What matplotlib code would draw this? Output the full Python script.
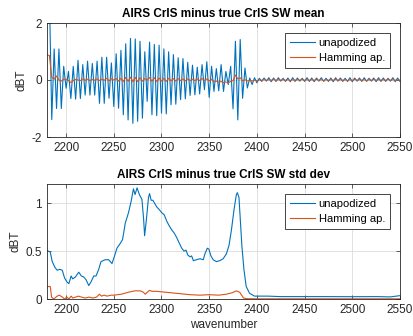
import matplotlib
matplotlib.use("Agg")
import matplotlib.pyplot as plt
import numpy as np

# channel grid for the SW band (2.5 cm-1 spacing)
wn = np.arange(2180, 2550.01, 2.5)

# AIRS CrIS minus true CrIS, mean (dBT)
mean_unapod = [
    2.5, 3.0, -1.39, 1.09, -1.0, 1.09, -1.0, 0.48, -0.29, 0.30,
    -0.65, 0.48, -0.67, 0.69, -0.65, 0.54, -0.53, 0.66, -0.53, 0.58,
    -0.53, 0.66, -0.82, 0.80, -0.82, 0.80, -0.64, 0.60, -0.93, 0.92,
    -0.99, 1.04, -1.22, 1.27, -1.40, 1.46, -1.52, 1.44, -1.45, 1.36,
    -1.34, 0.99, -0.75, 1.33, -1.22, 1.25, -1.25, 1.22, -1.16, 1.09,
    -1.19, 0.99, -0.87, 0.89, -0.85, 0.78, -0.69, 0.75, -0.66, 0.62,
    -0.54, 0.52, -0.52, 0.45, -0.49, 0.54, -0.34, 0.64, -0.61, 0.48,
    -0.40, 0.40, -0.38, 0.54, -0.40, 0.30, -0.16, 0.48, -1.01, 1.36,
    -1.40, 1.42, -0.64, 0.42, -0.28, 0.07, -0.16, 0.08, -0.10, 0.06,
    -0.05, 0.07, -0.04, 0.08, -0.06, 0.07, -0.05, 0.08, -0.04, 0.06,
    -0.05, 0.07, -0.06, 0.08, -0.05, 0.07, -0.04, 0.06, -0.05, 0.08,
    -0.05, 0.07, -0.06, 0.07, -0.04, 0.08, -0.05, 0.06, -0.05, 0.07,
    -0.06, 0.08, -0.04, 0.07, -0.05, 0.06, -0.05, 0.08, -0.06, 0.07,
    -0.04, 0.07, -0.05, 0.08, -0.05, 0.06, -0.04, 0.07, -0.06, 0.08,
    -0.05, 0.07, -0.05, 0.06, -0.04, 0.08, -0.06, 0.07, -0.05,
]
mean_hamm = [
    0.88, 0.86, 0.10, 0.03, 0.14, 0.00, -0.04, 0.03, 0.02, -0.02,
    -0.09, -0.02, 0.02, 0.00, -0.02, 0.04, -0.01, 0.03, -0.02, 0.02,
    -0.01, 0.04, -0.02, 0.03, -0.01, 0.06, -0.03, 0.04, 0.00, 0.05,
    -0.04, 0.06, -0.05, 0.09, -0.05, 0.10, -0.06, 0.09, -0.06, 0.08,
    -0.04, 0.05, 0.00, 0.09, -0.05, 0.08, -0.05, 0.07, -0.04, 0.06,
    -0.05, 0.06, -0.03, 0.05, -0.04, 0.05, -0.02, 0.04, -0.03, 0.04,
    -0.02, 0.03, -0.02, 0.04, -0.02, 0.05, -0.02, 0.04, -0.03, 0.02,
    -0.06, -0.04, -0.08, -0.05, -0.09, -0.07, -0.10, -0.05, -0.02, 0.17,
    0.04, 0.08, -0.03, 0.01, -0.03, -0.02, -0.03, -0.01, -0.02, 0.00,
    -0.01, 0.01, -0.01, 0.01, -0.01, 0.02, -0.01, 0.01, -0.01, 0.01,
    -0.01, 0.01, -0.02, 0.01, -0.01, 0.01, -0.01, 0.02, -0.01, 0.01,
    -0.01, 0.01, -0.01, 0.02, -0.01, 0.01, -0.02, 0.01, -0.01, 0.01,
    -0.01, 0.02, -0.01, 0.01, -0.01, 0.01, -0.02, 0.01, -0.01, 0.02,
    -0.01, 0.01, -0.01, 0.01, -0.02, 0.01, -0.01, 0.02, -0.01, 0.01,
    -0.01, 0.01, -0.01, 0.02, -0.01, 0.01, -0.01, 0.01, -0.01,
]

# AIRS CrIS minus true CrIS, std dev (dBT)
std_wn = [2180, 2181.3, 2183.4, 2185.5, 2188.3, 2190.7, 2193.2, 2196, 2198.4, 2200.8,
          2202.9, 2205.3, 2207, 2209.8, 2213.3, 2216, 2218.5, 2221, 2223.8, 2226.2,
          2229, 2231.4, 2234.2, 2236.6, 2241.1, 2244.6, 2248.1, 2250.5, 2253.3, 2256.8,
          2259.2, 2262, 2265.4, 2268.2, 2270.6, 2272.3, 2274.4, 2276.8, 2279.5, 2281.3,
          2282.3, 2284, 2286.4, 2287.5, 2289.2, 2291, 2292.7, 2295.1, 2297.9, 2300.3,
          2302.8, 2305.6, 2308.3, 2310.8, 2313.2, 2316, 2318.8, 2321.2, 2323.6, 2325.7,
          2327.5, 2329.9, 2331.6, 2333.4, 2336.8, 2340.3, 2343.8, 2345.5, 2348, 2349.7,
          2351.8, 2354.2, 2357.6, 2361.1, 2364.6, 2368, 2370.8, 2373.3, 2376, 2378.5,
          2379.5, 2381.2, 2382.6, 2384.3, 2386.4, 2388.8, 2392.3, 2397.5, 2402.7, 2411.4,
          2425, 2450, 2475, 2500, 2525, 2540, 2550]
std_unapod = [0.50, 0.50, 0.49, 0.39, 0.33, 0.30, 0.31, 0.30, 0.22, 0.18,
              0.16, 0.24, 0.21, 0.23, 0.28, 0.24, 0.23, 0.20, 0.14, 0.18,
              0.24, 0.24, 0.31, 0.39, 0.41, 0.41, 0.37, 0.44, 0.53, 0.58,
              0.62, 0.79, 0.90, 1.02, 1.15, 1.09, 1.16, 1.09, 1.04, 0.83,
              0.66, 0.81, 1.06, 1.10, 1.03, 1.03, 1.00, 0.96, 0.93, 0.90,
              0.88, 0.81, 0.76, 0.72, 0.69, 0.64, 0.58, 0.53, 0.50, 0.51,
              0.46, 0.44, 0.45, 0.40, 0.41, 0.42, 0.41, 0.47, 0.53, 0.52,
              0.45, 0.41, 0.39, 0.40, 0.42, 0.47, 0.56, 0.72, 0.93, 1.09,
              1.11, 1.06, 0.83, 0.55, 0.31, 0.13, 0.06, 0.03, 0.03, 0.03,
              0.025, 0.025, 0.025, 0.024, 0.025, 0.022, 0.035]

hamm_wn = [2180, 2183.4, 2184.8, 2187, 2190.7, 2193, 2196, 2198.4, 2200.8, 2203,
           2205.3, 2207, 2210, 2213, 2216, 2220, 2224, 2228, 2232, 2235,
           2237, 2240, 2243, 2247, 2250, 2258, 2265, 2272, 2278, 2281,
           2283, 2285, 2287.5, 2290, 2295, 2300, 2310, 2320, 2330, 2340,
           2350, 2360, 2368, 2374, 2378.5, 2382, 2384, 2386, 2390, 2400, 2550]
std_hamm = [0.13, 0.13, 0.02, 0.00, 0.03, 0.04, 0.02, 0.00, 0.02, 0.00,
            0.03, 0.01, 0.02, 0.03, 0.02, 0.01, 0.02, 0.01, 0.02, 0.05,
            0.03, 0.04, 0.03, 0.04, 0.04, 0.05, 0.07, 0.085, 0.085, 0.07,
            0.05, 0.07, 0.09, 0.08, 0.08, 0.075, 0.065, 0.055, 0.045, 0.04,
            0.045, 0.04, 0.05, 0.065, 0.085, 0.07, 0.04, 0.01, 0.003, 0.002, 0.002]

xticks = [2200, 2250, 2300, 2350, 2400, 2450, 2500, 2550]

BLUE = '#0072BD'
ORANGE = '#D95319'
DARK = '#262626'

plt.rcParams['font.family'] = ['Liberation Sans', 'DejaVu Sans']
plt.rcParams['font.size'] = 8

fig = plt.figure(figsize=(4.14, 3.36), dpi=100)
ax1 = fig.add_axes([47/414, 1 - 137/336, 353/414, 114/336])
ax2 = fig.add_axes([47/414, 1 - 299/336, 353/414, 115/336])


def style(ax, title, yticks, ylim, yticklabels):
    ax.set_xlim(2180, 2550)
    ax.set_ylim(*ylim)
    ax.set_xticks(xticks)
    ax.set_yticks(yticks)
    ax.set_yticklabels(yticklabels)
    ax.grid(True, color='#dcdcdc', linewidth=0.6)
    ax.set_axisbelow(True)
    ax.tick_params(direction='in', top=True, right=True, length=3,
                   width=0.5, colors=DARK, labelsize=8.5)
    for s in ax.spines.values():
        s.set_linewidth(0.6)
        s.set_color(DARK)
    ax.set_title(title, fontsize=8.5, fontweight='bold', color='black', pad=4)
    ax.set_ylabel('dBT', fontsize=8.5, color=DARK, labelpad=3)
    leg = ax.legend(loc='upper right', bbox_to_anchor=(1 - 10/353, 1 - 10/114),
                    borderaxespad=0, fancybox=False, framealpha=1,
                    edgecolor=DARK, fontsize=8, handlelength=2.3,
                    handletextpad=0.3, borderpad=0.45, labelspacing=0.45)
    leg.get_frame().set_linewidth(0.6)


ax1.plot(wn, mean_unapod, color=BLUE, lw=0.8, label='unapodized')
ax1.plot(wn, mean_hamm, color=ORANGE, lw=0.8, label='Hamming ap.')
style(ax1, 'AIRS CrIS minus true CrIS SW mean', [-2, 0, 2], (-2, 2),
      ['-2', '0', '2'])

ax2.plot(std_wn, std_unapod, color=BLUE, lw=0.8, label='unapodized')
ax2.plot(hamm_wn, std_hamm, color=ORANGE, lw=0.8, label='Hamming ap.')
style(ax2, 'AIRS CrIS minus true CrIS SW std dev', [0, 0.5, 1], (0, 1.2),
      ['0', '0.5', '1'])
ax2.set_xlabel('wavenumber', fontsize=8.5, color=DARK, labelpad=2)

fig.savefig('out.png', dpi=100)
